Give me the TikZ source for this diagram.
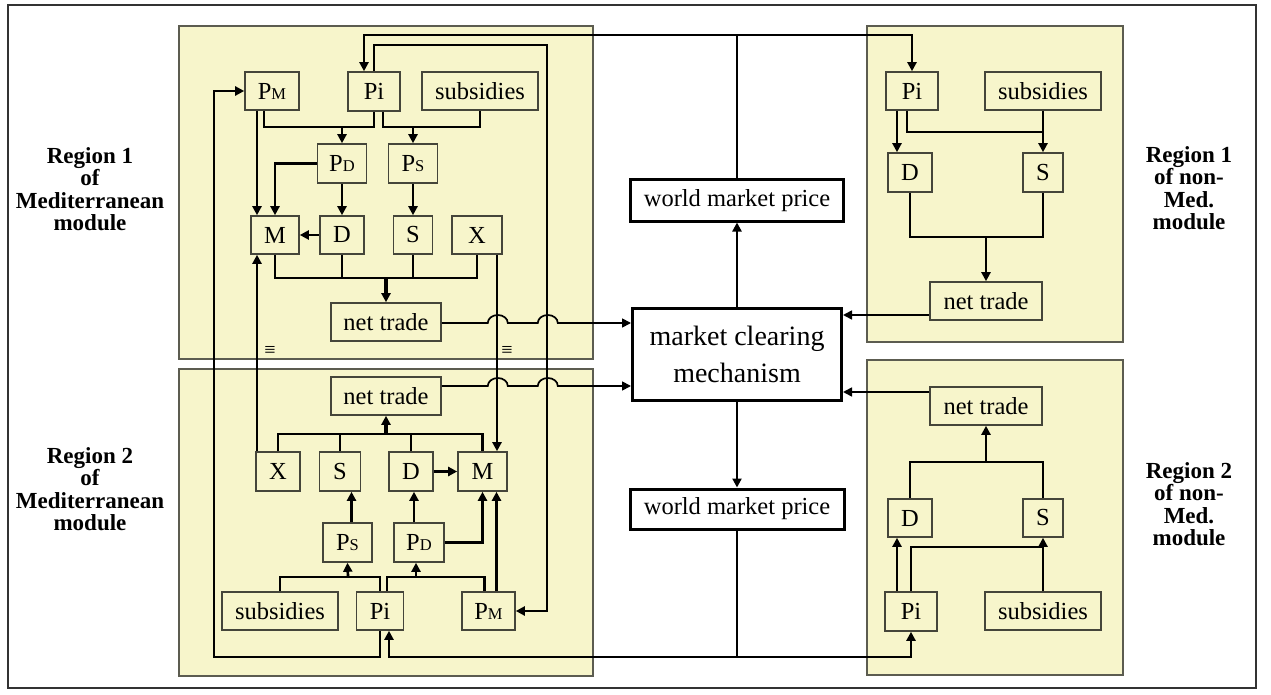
\documentclass[tikz,border=0pt]{standalone}
\usepackage{fontspec}
\setmainfont{Liberation Serif}
\usetikzlibrary{arrows.meta,calc}
\definecolor{panelfill}{HTML}{F7F5CB}
\definecolor{panelline}{HTML}{5C5C50}
\definecolor{boxline}{HTML}{45453A}
\newcommand{\smc}[1]{{\fontsize{16.5}{16}\selectfont #1}}
\begin{document}
\begin{tikzpicture}[x=1pt,y=-1pt,
  panel/.style={draw=panelline, fill=panelfill, line width=1.4pt},
  bx/.style={draw=boxline, fill=panelfill, line width=1.6pt, inner sep=0pt, font=\fontsize{24.5}{26}\selectfont},
  bigbx/.style={draw=black, fill=white, line width=3pt, inner sep=0pt, align=center},
  conn/.style={line width=2.7pt, black},
  arr/.style={conn, -{Triangle[length=9pt,width=9pt]}},
  tarr/.style={line width=1.7pt, black, -{Triangle[length=9pt,width=9pt]}},
  lab/.style={font=\fontsize{23}{22.5}\selectfont\bfseries, align=center},
  eqs/.style={font=\fontsize{20}{20}\selectfont}]
\useasboundingbox (0,0) rectangle (1271,695);
\draw[line width=1.5pt, black!80] (8,5) rectangle (1256,688);
% panels
\draw[panel] (179,26) rectangle (593,359);
\draw[panel] (179,369) rectangle (593,676);
\draw[panel] (867,26) rectangle (1123,342);
\draw[panel] (867,360) rectangle (1123,675);
% labels
\node[lab] (L1) at (90,189) {Region 1\\of\\Mediterranean\\module};
\node[lab] (L2) at (90,489) {Region 2\\of\\Mediterranean\\module};
\node[lab] (L3) at (1189,188) {Region 1\\of non-\\Med.\\module};
\node[lab] (L4) at (1189,504) {Region 2\\of non-\\Med.\\module};
% top-left nodes
\node[bx, minimum width=54pt, minimum height=38pt] (PM1) at (272,91) {P\smc{M}};
\node[bx, minimum width=52pt, minimum height=39pt] (Pi1) at (374,91.5) {Pi};
\node[bx, minimum width=116pt, minimum height=38pt] (sub1) at (480,91) {subsidies};
\node[bx, minimum width=49pt, minimum height=39pt] (PD1) at (342,163.5) {P\smc{D}};
\node[bx, minimum width=49pt, minimum height=39pt] (PS1) at (413,163.5) {P\smc{S}};
\node[bx, minimum width=48pt, minimum height=38pt] (M1) at (275,235) {M};
\node[bx, minimum width=44pt, minimum height=38pt] (D1) at (342,235) {D};
\node[bx, minimum width=39pt, minimum height=38pt] (S1) at (413,235) {S};
\node[bx, minimum width=50pt, minimum height=38pt] (X1) at (477,235) {X};
\node[bx, minimum width=110pt, minimum height=38pt] (NT1) at (386,322) {net trade};
\node[eqs] (eq1) at (270,351) {≡};
\node[eqs] (eq2) at (507,351) {≡};
% bottom-left nodes
\node[bx, minimum width=110pt, minimum height=38pt] (NT2) at (386,396) {net trade};
\node[bx, minimum width=44pt, minimum height=39pt] (X2) at (278,471.5) {X};
\node[bx, minimum width=41pt, minimum height=39pt] (S2) at (340,471.5) {S};
\node[bx, minimum width=44pt, minimum height=39pt] (D2) at (411,471.5) {D};
\node[bx, minimum width=49pt, minimum height=39pt] (M2) at (482.5,471.5) {M};
\node[bx, minimum width=49pt, minimum height=39pt] (PS2) at (347.5,542.5) {P\smc{S}};
\node[bx, minimum width=50pt, minimum height=39pt] (PD2) at (419,542.5) {P\smc{D}};
\node[bx, minimum width=116pt, minimum height=38pt] (sub2) at (280,611) {subsidies};
\node[bx, minimum width=47pt, minimum height=38pt] (Pi2) at (380,611) {Pi};
\node[bx, minimum width=53pt, minimum height=38pt] (PM2) at (488.5,611) {P\smc{M}};
% top-right nodes
\node[bx, minimum width=52pt, minimum height=38pt] (Pi3) at (912,91) {Pi};
\node[bx, minimum width=116pt, minimum height=38pt] (sub3) at (1043,91) {subsidies};
\node[bx, minimum width=44pt, minimum height=39pt] (D3) at (910,172.5) {D};
\node[bx, minimum width=40pt, minimum height=39pt] (S3) at (1043,172.5) {S};
\node[bx, minimum width=112pt, minimum height=38pt] (NT3) at (986,301) {net trade};
% bottom-right nodes
\node[bx, minimum width=112pt, minimum height=38pt] (NT4) at (986,406) {net trade};
\node[bx, minimum width=44pt, minimum height=38pt] (D4) at (910,518) {D};
\node[bx, minimum width=40pt, minimum height=38pt] (S4) at (1043,518) {S};
\node[bx, minimum width=52pt, minimum height=39pt] (Pi4) at (911,611.5) {Pi};
\node[bx, minimum width=116pt, minimum height=38pt] (sub4) at (1043,611) {subsidies};
% centre nodes
\node[bigbx, minimum width=213pt, minimum height=41pt, font=\fontsize{24.5}{26}\selectfont] (WMP1) at (737,200.5) {world market price};
\node[bigbx, minimum width=214pt, minimum height=40pt, font=\fontsize{24.5}{26}\selectfont] (WMP2) at (737,509) {world market price};
\node[bigbx, minimum width=209pt, minimum height=92pt, font=\fontsize{28}{37}\selectfont] (MC) at (737,354) {market clearing\\mechanism};
% coordinates
\coordinate (top) at (737,35);
\coordinate (bot) at (737,657);
\coordinate (rt) at (547,45);
\coordinate (bl) at (214,657);
\coordinate (j1) at (342,127);
\coordinate (j2) at (413,127);
\coordinate (agg1) at (386,278);
\coordinate (agg2) at (386,434);
\coordinate (j5) at (348,577);
\coordinate (j6) at (416,577);
\coordinate (j7) at (1043,132);
\coordinate (agg3) at (986,237);
\coordinate (agg4) at (986,462);
\coordinate (j8) at (1043,547);
\coordinate (pm1a) at ([xshift=-15pt]PM1.south);
\coordinate (pm1b) at ([xshift=-8pt]PM1.south);
\coordinate (pi1a) at ([xshift=-10pt]Pi1.north);
\coordinate (pi1b) at ([xshift=9pt]Pi1.south);
\coordinate (x1a) at ([xshift=20pt]X1.south);
\coordinate (x2a) at ([xshift=-21pt]X2.north);
\coordinate (ps2a) at ([xshift=4pt]PS2.north);
\coordinate (pd2a) at ([xshift=-5pt]PD2.north);
\coordinate (pm2a) at ([xshift=8pt]PM2.north);
\coordinate (pm2b) at ([xshift=-4pt]PM2.north);
\coordinate (pi2a) at ([xshift=7pt]Pi2.north);
\coordinate (pi2b) at ([xshift=9pt]Pi2.south);
\coordinate (pi3a) at ([xshift=-15pt]Pi3.south);
\coordinate (pi3b) at ([xshift=-5pt]Pi3.south);
\coordinate (pi4a) at ([xshift=-14pt]Pi4.north);
\coordinate (nt1e) at ([yshift=-1pt]NT1.east);
\coordinate (nt2e) at ([yshift=10pt]NT2.east);
\coordinate (nt3w) at ([yshift=-14pt]NT3.west);
\coordinate (nt4w) at ([yshift=14pt]NT4.west);
% world market price links
\draw[conn, line width=2.2pt] (WMP1.north) -- (top);
\draw[arr, line width=2.2pt] (top) -| (pi1a);
\draw[arr, line width=2.2pt] (top) -| (Pi3.north);
\draw[conn, line width=2.2pt] (WMP2.south) -- (bot);
\draw[arr, line width=2.2pt] (bot) -| (pi2b);
\draw[arr, line width=2.2pt] (bot) -| (Pi4.south);
\draw[arr] (MC.north) -- (WMP1.south);
\draw[arr] (MC.south) -- (WMP2.north);
% long links between Mediterranean regions
\draw[arr] (Pi1.north) |- (rt) |- (PM2.east);
\draw[arr] (Pi2.south) |- (bl) |- (PM1.west);
\draw[arr] (x1a) -- (x1a |- M2.north);
\draw[arr] (x2a) -- (x2a |- M1.south);
% top-left panel
\draw[conn] (pm1b) |- (j1) -| (Pi1.south);
\draw[arr] (j1) -- (PD1.north);
\draw[conn] (pi1b) |- (j2) -| (sub1.south);
\draw[arr] (j2) -- (PS1.north);
\draw[arr] (pm1a) -- (pm1a |- M1.north);
\draw[arr] (PD1.west) -| (M1.north);
\draw[arr] (PD1.south) -- (D1.north);
\draw[arr] (PS1.south) -- (S1.north);
\draw[arr] (D1.west) -- (M1.east);
\draw[conn] (M1.south) |- (agg1) -| (X1.south);
\draw[conn] (D1.south) -- (D1.south |- agg1);
\draw[conn] (S1.south) -- (S1.south |- agg1);
\draw[arr, line width=3.2pt] (agg1) -- (NT1.north);
% bottom-left panel
\draw[conn] (X2.north) |- (agg2) -| (M2.north);
\draw[conn] (S2.north) -- (S2.north |- agg2);
\draw[conn] (D2.north) -- (D2.north |- agg2);
\draw[arr, line width=3.2pt] (agg2) -- (NT2.south);
\draw[arr] (D2.east) -- (M2.west);
\draw[arr] (ps2a) -- (ps2a |- S2.south);
\draw[arr] (pd2a) -- (pd2a |- D2.south);
\draw[arr] (PD2.east) -| (M2.south);
\draw[arr] (pm2a) -- (pm2a |- M2.south);
\draw[conn] (sub2.north) |- (j5) -| (Pi2.north);
\draw[arr] (j5) -- (PS2.south);
\draw[conn] (pi2a) |- (j6) -| (pm2b);
\draw[arr] (j6) -- (j6 |- PD2.south);
% top-right panel
\draw[arr] (pi3a) -- (pi3a |- D3.north);
\draw[conn] (pi3b) |- (j7);
\draw[arr] (sub3.south) -- (S3.north);
\draw[conn] (D3.south) |- (agg3) -| (S3.south);
\draw[arr] (agg3) -- (NT3.north);
% bottom-right panel
\draw[conn] (D4.north) |- (agg4) -| (S4.north);
\draw[arr] (agg4) -- (NT4.south);
\draw[arr] (pi4a) -- (pi4a |- D4.south);
\draw[conn] (Pi4.north) |- (j8);
\draw[arr] (sub4.north) -- (S4.south);
% net trade to market clearing
\draw[tarr] (nt1e) -- ++(46,0) arc[start angle=180,end angle=0,x radius=10pt,y radius=8pt] -- ++(30,0) arc[start angle=180,end angle=0,x radius=10pt,y radius=8pt] -- (nt1e -| MC.west);
\draw[tarr] (nt2e) -- ++(46,0) arc[start angle=180,end angle=0,x radius=10pt,y radius=8pt] -- ++(30,0) arc[start angle=180,end angle=0,x radius=10pt,y radius=8pt] -- (nt2e -| MC.west);
\draw[tarr] (nt3w) -- (nt3w -| MC.east);
\draw[tarr] (nt4w) -- (nt4w -| MC.east);
\end{tikzpicture}
\end{document}
